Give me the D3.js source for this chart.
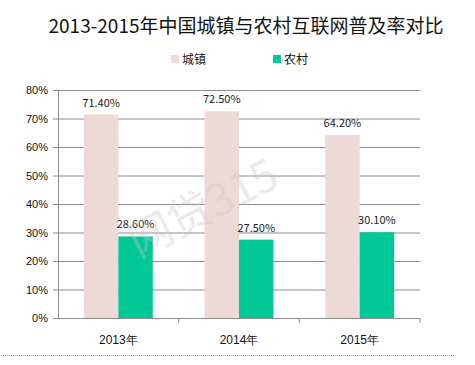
<!DOCTYPE html>
<html>
    <head>
        <meta charset="utf-8">
        <style>
            html, body {
                margin: 0px;
                padding: 0px;
                background-color: #fff;
                font-family: "Noto Sans CJK SC", "Noto Sans", sans-serif;
            }

            svg text {
                fill: #111;
            }

            .title {
                font-size: 19px;
            }

            .axis text {
                font-size: 11px;
                fill: #111;
            }

            .axis .domain, .axis line {
                stroke: #8c8c8c;
            }

            .grid line {
                stroke: #8c8c8c;
            }

            .label {
                font-size: 11px;
                fill: #222;
            }
        </style>
        <script src="https://cdn.jsdelivr.net/npm/d3@7"></script>
    </head>
    <body>
        <div id="main"></div>

        <script>
            var years = ["2013年", "2014年", "2015年"];
            var seriesNames = ["城镇", "农村"];
            var urban = [71.4, 72.5, 64.2];
            var rural = [28.6, 27.5, 30.1];
            var yTicks = [0, 10, 20, 30, 40, 50, 60, 70, 80];
            var colors = ["#eed9d9", "#00c896"];

            var width = 475;
            var height = 365;
            var plotLeft = 58, plotRight = 420, plotTop = 90, plotBottom = 318;

            function main() {
                var svg = d3.select("#main")
                            .append("svg")
                            .attr("width", width)
                            .attr("height", height);

                var x = d3.scaleBand().domain(years).range([plotLeft, plotRight]);
                var y = d3.scaleLinear().domain([0, 80]).range([plotBottom, plotTop]);
                // gap width 150%: each bar is step / 3.5
                var barW = x.step() / 3.5;

                svg.append("text")
                    .attr("class", "title")
                    .attr("x", 246)
                    .attr("y", 33)
                    .style("text-anchor", "middle")
                    .text("2013-2015年中国城镇与农村互联网普及率对比");

                // legend
                var legendX = [171, 273];
                var lg = svg.selectAll(".legend")
                    .data(seriesNames)
                    .enter()
                    .append("g")
                    .attr("class", "legend")
                    .attr("transform", function(d, i) { return "translate(" + legendX[i] + ",59)"; });
                lg.append("rect")
                    .attr("x", 0)
                    .attr("y", -4)
                    .attr("width", 8)
                    .attr("height", 8)
                    .attr("fill", function(d, i) { return colors[i]; });
                lg.append("text")
                    .attr("x", 11)
                    .attr("y", 4.5)
                    .style("font-size", "12px")
                    .text(function(d) { return d; });

                // gridlines
                svg.append("g")
                    .attr("class", "grid")
                    .selectAll("line")
                    .data(yTicks.slice(1))
                    .enter()
                    .append("line")
                    .attr("x1", plotLeft)
                    .attr("x2", plotRight)
                    .attr("y1", function(d) { return y(d) + 0.5; })
                    .attr("y2", function(d) { return y(d) + 0.5; });

                var series = [urban, rural];
                series.forEach(function(vals, s) {
                    var g = svg.append("g");
                    g.selectAll("rect")
                        .data(vals)
                        .enter()
                        .append("rect")
                        .attr("x", function(d, i) { return x(years[i]) + x.step() / 2 - barW + s * barW; })
                        .attr("y", function(d) { return y(d); })
                        .attr("width", barW)
                        .attr("height", function(d) { return plotBottom - y(d); })
                        .attr("fill", colors[s]);
                    g.selectAll("text")
                        .data(vals)
                        .enter()
                        .append("text")
                        .attr("class", "label")
                        .attr("x", function(d, i) { return x(years[i]) + x.step() / 2 - barW / 2 + s * barW; })
                        .attr("y", function(d) { return y(d) - 8; })
                        .style("text-anchor", "middle")
                        .text(function(d) { return d.toFixed(2) + "%"; });
                });

                svg.append("g")
                    .attr("class", "axis")
                    .attr("transform", "translate(" + plotLeft + ",0)")
                    .call(d3.axisLeft(y).tickValues(yTicks).tickSize(5).tickSizeOuter(0)
                        .tickFormat(function(d) { return d + "%"; }))
                    .selectAll("text").attr("dx", "-2");

                var xa = svg.append("g")
                    .attr("class", "axis")
                    .attr("transform", "translate(0," + plotBottom + ")")
                    .call(d3.axisBottom(x).tickSize(0).tickSizeOuter(0));
                xa.selectAll("text").attr("dy", "1.9em").style("font-size", "12px");
                xa.selectAll(".sep")
                    .data(years)
                    .enter()
                    .append("line")
                    .attr("x1", function(d) { return x(d) + x.step(); })
                    .attr("x2", function(d) { return x(d) + x.step(); })
                    .attr("y1", 0)
                    .attr("y2", 5);

                svg.append("line")
                    .attr("x1", 3)
                    .attr("x2", 455)
                    .attr("y1", 355.5)
                    .attr("y2", 355.5)
                    .attr("stroke", "#999")
                    .attr("stroke-dasharray", "1,1");

                // watermark sits over the bars
                svg.append("text")
                    .attr("transform", "translate(210,222) rotate(-27)")
                    .style("text-anchor", "middle")
                    .style("font-size", "44px")
                    .style("fill", "#c8c8c8")
                    .style("fill-opacity", 0.4)
                    .text("网贷315");
            }

            main();
        </script>
    </body>
</html>
